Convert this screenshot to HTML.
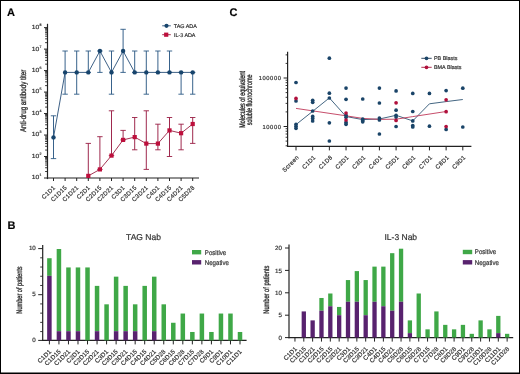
<!DOCTYPE html>
<html><head><meta charset="utf-8"><style>
html,body{margin:0;padding:0;background:#fff;width:520px;height:374px;overflow:hidden}
svg{display:block;font-family:"Liberation Sans", sans-serif;will-change:transform}
text{stroke:#2a2a2a;stroke-width:0.18px;text-rendering:geometricPrecision}
</style></head><body>
<svg width="520" height="374" viewBox="0 0 520 374">
<rect width="520" height="374" fill="#fff"/>
<text x="7.1" y="16.3" font-size="11" font-weight="bold" fill="#000">A</text>
<text x="229.6" y="16.3" font-size="11" font-weight="bold" fill="#000">C</text>
<text x="7.6" y="229" font-size="11" font-weight="bold" fill="#000">B</text>
<line x1="47.5" y1="24.4" x2="47.5" y2="178.5" stroke="#222" stroke-width="1.2" stroke-linecap="square"/>
<line x1="47.5" y1="178.0" x2="198.4" y2="178.0" stroke="#222" stroke-width="1.2" stroke-linecap="square"/>
<line x1="44.0" y1="178.0" x2="47.5" y2="178.0" stroke="#222" stroke-width="1"/>
<line x1="45.1" y1="171.53" x2="47.5" y2="171.53" stroke="#222" stroke-width="0.9"/>
<line x1="45.1" y1="167.75" x2="47.5" y2="167.75" stroke="#222" stroke-width="0.9"/>
<line x1="45.1" y1="165.07" x2="47.5" y2="165.07" stroke="#222" stroke-width="0.9"/>
<line x1="45.1" y1="162.99" x2="47.5" y2="162.99" stroke="#222" stroke-width="0.9"/>
<line x1="45.1" y1="161.29" x2="47.5" y2="161.29" stroke="#222" stroke-width="0.9"/>
<line x1="45.1" y1="159.85" x2="47.5" y2="159.85" stroke="#222" stroke-width="0.9"/>
<line x1="45.1" y1="158.60" x2="47.5" y2="158.60" stroke="#222" stroke-width="0.9"/>
<line x1="45.1" y1="157.50" x2="47.5" y2="157.50" stroke="#222" stroke-width="0.9"/>
<text transform="translate(39.2,179.40) scale(1.15,1)" font-size="5.9" fill="#333" text-anchor="end">10</text>
<text x="39.4" y="176.40" font-size="3.6" fill="#333">1</text>
<line x1="44.0" y1="156.52" x2="47.5" y2="156.52" stroke="#222" stroke-width="1"/>
<line x1="45.1" y1="150.05" x2="47.5" y2="150.05" stroke="#222" stroke-width="0.9"/>
<line x1="45.1" y1="146.27" x2="47.5" y2="146.27" stroke="#222" stroke-width="0.9"/>
<line x1="45.1" y1="143.59" x2="47.5" y2="143.59" stroke="#222" stroke-width="0.9"/>
<line x1="45.1" y1="141.51" x2="47.5" y2="141.51" stroke="#222" stroke-width="0.9"/>
<line x1="45.1" y1="139.81" x2="47.5" y2="139.81" stroke="#222" stroke-width="0.9"/>
<line x1="45.1" y1="138.37" x2="47.5" y2="138.37" stroke="#222" stroke-width="0.9"/>
<line x1="45.1" y1="137.12" x2="47.5" y2="137.12" stroke="#222" stroke-width="0.9"/>
<line x1="45.1" y1="136.02" x2="47.5" y2="136.02" stroke="#222" stroke-width="0.9"/>
<text transform="translate(39.2,157.92) scale(1.15,1)" font-size="5.9" fill="#333" text-anchor="end">10</text>
<text x="39.4" y="154.92" font-size="3.6" fill="#333">2</text>
<line x1="44.0" y1="135.04" x2="47.5" y2="135.04" stroke="#222" stroke-width="1"/>
<line x1="45.1" y1="128.57" x2="47.5" y2="128.57" stroke="#222" stroke-width="0.9"/>
<line x1="45.1" y1="124.79" x2="47.5" y2="124.79" stroke="#222" stroke-width="0.9"/>
<line x1="45.1" y1="122.11" x2="47.5" y2="122.11" stroke="#222" stroke-width="0.9"/>
<line x1="45.1" y1="120.03" x2="47.5" y2="120.03" stroke="#222" stroke-width="0.9"/>
<line x1="45.1" y1="118.33" x2="47.5" y2="118.33" stroke="#222" stroke-width="0.9"/>
<line x1="45.1" y1="116.89" x2="47.5" y2="116.89" stroke="#222" stroke-width="0.9"/>
<line x1="45.1" y1="115.64" x2="47.5" y2="115.64" stroke="#222" stroke-width="0.9"/>
<line x1="45.1" y1="114.54" x2="47.5" y2="114.54" stroke="#222" stroke-width="0.9"/>
<text transform="translate(39.2,136.44) scale(1.15,1)" font-size="5.9" fill="#333" text-anchor="end">10</text>
<text x="39.4" y="133.44" font-size="3.6" fill="#333">3</text>
<line x1="44.0" y1="113.56" x2="47.5" y2="113.56" stroke="#222" stroke-width="1"/>
<line x1="45.1" y1="107.09" x2="47.5" y2="107.09" stroke="#222" stroke-width="0.9"/>
<line x1="45.1" y1="103.31" x2="47.5" y2="103.31" stroke="#222" stroke-width="0.9"/>
<line x1="45.1" y1="100.63" x2="47.5" y2="100.63" stroke="#222" stroke-width="0.9"/>
<line x1="45.1" y1="98.55" x2="47.5" y2="98.55" stroke="#222" stroke-width="0.9"/>
<line x1="45.1" y1="96.85" x2="47.5" y2="96.85" stroke="#222" stroke-width="0.9"/>
<line x1="45.1" y1="95.41" x2="47.5" y2="95.41" stroke="#222" stroke-width="0.9"/>
<line x1="45.1" y1="94.16" x2="47.5" y2="94.16" stroke="#222" stroke-width="0.9"/>
<line x1="45.1" y1="93.06" x2="47.5" y2="93.06" stroke="#222" stroke-width="0.9"/>
<text transform="translate(39.2,114.96) scale(1.15,1)" font-size="5.9" fill="#333" text-anchor="end">10</text>
<text x="39.4" y="111.96" font-size="3.6" fill="#333">4</text>
<line x1="44.0" y1="92.08" x2="47.5" y2="92.08" stroke="#222" stroke-width="1"/>
<line x1="45.1" y1="85.61" x2="47.5" y2="85.61" stroke="#222" stroke-width="0.9"/>
<line x1="45.1" y1="81.83" x2="47.5" y2="81.83" stroke="#222" stroke-width="0.9"/>
<line x1="45.1" y1="79.15" x2="47.5" y2="79.15" stroke="#222" stroke-width="0.9"/>
<line x1="45.1" y1="77.07" x2="47.5" y2="77.07" stroke="#222" stroke-width="0.9"/>
<line x1="45.1" y1="75.37" x2="47.5" y2="75.37" stroke="#222" stroke-width="0.9"/>
<line x1="45.1" y1="73.93" x2="47.5" y2="73.93" stroke="#222" stroke-width="0.9"/>
<line x1="45.1" y1="72.68" x2="47.5" y2="72.68" stroke="#222" stroke-width="0.9"/>
<line x1="45.1" y1="71.58" x2="47.5" y2="71.58" stroke="#222" stroke-width="0.9"/>
<text transform="translate(39.2,93.48) scale(1.15,1)" font-size="5.9" fill="#333" text-anchor="end">10</text>
<text x="39.4" y="90.48" font-size="3.6" fill="#333">5</text>
<line x1="44.0" y1="70.6" x2="47.5" y2="70.6" stroke="#222" stroke-width="1"/>
<line x1="45.1" y1="64.13" x2="47.5" y2="64.13" stroke="#222" stroke-width="0.9"/>
<line x1="45.1" y1="60.35" x2="47.5" y2="60.35" stroke="#222" stroke-width="0.9"/>
<line x1="45.1" y1="57.67" x2="47.5" y2="57.67" stroke="#222" stroke-width="0.9"/>
<line x1="45.1" y1="55.59" x2="47.5" y2="55.59" stroke="#222" stroke-width="0.9"/>
<line x1="45.1" y1="53.89" x2="47.5" y2="53.89" stroke="#222" stroke-width="0.9"/>
<line x1="45.1" y1="52.45" x2="47.5" y2="52.45" stroke="#222" stroke-width="0.9"/>
<line x1="45.1" y1="51.20" x2="47.5" y2="51.20" stroke="#222" stroke-width="0.9"/>
<line x1="45.1" y1="50.10" x2="47.5" y2="50.10" stroke="#222" stroke-width="0.9"/>
<text transform="translate(39.2,72.00) scale(1.15,1)" font-size="5.9" fill="#333" text-anchor="end">10</text>
<text x="39.4" y="69.00" font-size="3.6" fill="#333">6</text>
<line x1="44.0" y1="49.120000000000005" x2="47.5" y2="49.120000000000005" stroke="#222" stroke-width="1"/>
<line x1="45.1" y1="42.65" x2="47.5" y2="42.65" stroke="#222" stroke-width="0.9"/>
<line x1="45.1" y1="38.87" x2="47.5" y2="38.87" stroke="#222" stroke-width="0.9"/>
<line x1="45.1" y1="36.19" x2="47.5" y2="36.19" stroke="#222" stroke-width="0.9"/>
<line x1="45.1" y1="34.11" x2="47.5" y2="34.11" stroke="#222" stroke-width="0.9"/>
<line x1="45.1" y1="32.41" x2="47.5" y2="32.41" stroke="#222" stroke-width="0.9"/>
<line x1="45.1" y1="30.97" x2="47.5" y2="30.97" stroke="#222" stroke-width="0.9"/>
<line x1="45.1" y1="29.72" x2="47.5" y2="29.72" stroke="#222" stroke-width="0.9"/>
<line x1="45.1" y1="28.62" x2="47.5" y2="28.62" stroke="#222" stroke-width="0.9"/>
<text transform="translate(39.2,50.52) scale(1.15,1)" font-size="5.9" fill="#333" text-anchor="end">10</text>
<text x="39.4" y="47.52" font-size="3.6" fill="#333">7</text>
<line x1="44.0" y1="27.639999999999986" x2="47.5" y2="27.639999999999986" stroke="#222" stroke-width="1"/>
<text transform="translate(39.2,29.04) scale(1.15,1)" font-size="5.9" fill="#333" text-anchor="end">10</text>
<text x="39.4" y="26.04" font-size="3.6" fill="#333">8</text>
<line x1="53.50" y1="178.0" x2="53.50" y2="181.0" stroke="#222" stroke-width="1"/>
<text transform="translate(55.80,187.80) rotate(-45)" font-size="6.0" letter-spacing="0.3" fill="#333" text-anchor="end">C1D1</text>
<line x1="65.10" y1="178.0" x2="65.10" y2="181.0" stroke="#222" stroke-width="1"/>
<text transform="translate(67.40,187.80) rotate(-45)" font-size="6.0" letter-spacing="0.3" fill="#333" text-anchor="end">C1D15</text>
<line x1="76.70" y1="178.0" x2="76.70" y2="181.0" stroke="#222" stroke-width="1"/>
<text transform="translate(79.00,187.80) rotate(-45)" font-size="6.0" letter-spacing="0.3" fill="#333" text-anchor="end">C1D21</text>
<line x1="88.30" y1="178.0" x2="88.30" y2="181.0" stroke="#222" stroke-width="1"/>
<text transform="translate(90.60,187.80) rotate(-45)" font-size="6.0" letter-spacing="0.3" fill="#333" text-anchor="end">C2D1</text>
<line x1="99.90" y1="178.0" x2="99.90" y2="181.0" stroke="#222" stroke-width="1"/>
<text transform="translate(102.20,187.80) rotate(-45)" font-size="6.0" letter-spacing="0.3" fill="#333" text-anchor="end">C2D15</text>
<line x1="111.50" y1="178.0" x2="111.50" y2="181.0" stroke="#222" stroke-width="1"/>
<text transform="translate(113.80,187.80) rotate(-45)" font-size="6.0" letter-spacing="0.3" fill="#333" text-anchor="end">C2D21</text>
<line x1="123.10" y1="178.0" x2="123.10" y2="181.0" stroke="#222" stroke-width="1"/>
<text transform="translate(125.40,187.80) rotate(-45)" font-size="6.0" letter-spacing="0.3" fill="#333" text-anchor="end">C3D1</text>
<line x1="134.70" y1="178.0" x2="134.70" y2="181.0" stroke="#222" stroke-width="1"/>
<text transform="translate(137.00,187.80) rotate(-45)" font-size="6.0" letter-spacing="0.3" fill="#333" text-anchor="end">C3D15</text>
<line x1="146.30" y1="178.0" x2="146.30" y2="181.0" stroke="#222" stroke-width="1"/>
<text transform="translate(148.60,187.80) rotate(-45)" font-size="6.0" letter-spacing="0.3" fill="#333" text-anchor="end">C3D21</text>
<line x1="157.90" y1="178.0" x2="157.90" y2="181.0" stroke="#222" stroke-width="1"/>
<text transform="translate(160.20,187.80) rotate(-45)" font-size="6.0" letter-spacing="0.3" fill="#333" text-anchor="end">C4D1</text>
<line x1="169.50" y1="178.0" x2="169.50" y2="181.0" stroke="#222" stroke-width="1"/>
<text transform="translate(171.80,187.80) rotate(-45)" font-size="6.0" letter-spacing="0.3" fill="#333" text-anchor="end">C4D15</text>
<line x1="181.10" y1="178.0" x2="181.10" y2="181.0" stroke="#222" stroke-width="1"/>
<text transform="translate(183.40,187.80) rotate(-45)" font-size="6.0" letter-spacing="0.3" fill="#333" text-anchor="end">C4D21</text>
<line x1="192.70" y1="178.0" x2="192.70" y2="181.0" stroke="#222" stroke-width="1"/>
<text transform="translate(195.00,187.80) rotate(-45)" font-size="6.0" letter-spacing="0.3" fill="#333" text-anchor="end">C5D28</text>
<text transform="translate(25.6,100.9) rotate(-90) scale(0.74,1)" font-size="8.4" fill="#333" text-anchor="middle" style="stroke-width:0.32px">Anti-drug antibody titer</text>
<line x1="53.50" y1="115.8" x2="53.50" y2="158.6" stroke="#2d5a85" stroke-width="0.95"/><line x1="50.80" y1="115.8" x2="56.20" y2="115.8" stroke="#2d5a85" stroke-width="0.9"/><line x1="50.80" y1="158.6" x2="56.20" y2="158.6" stroke="#2d5a85" stroke-width="0.9"/>
<line x1="65.10" y1="51.0" x2="65.10" y2="94.2" stroke="#2d5a85" stroke-width="0.95"/><line x1="62.40" y1="51.0" x2="67.80" y2="51.0" stroke="#2d5a85" stroke-width="0.9"/><line x1="62.40" y1="94.2" x2="67.80" y2="94.2" stroke="#2d5a85" stroke-width="0.9"/>
<line x1="76.70" y1="51.0" x2="76.70" y2="94.2" stroke="#2d5a85" stroke-width="0.95"/><line x1="74.00" y1="51.0" x2="79.40" y2="51.0" stroke="#2d5a85" stroke-width="0.9"/><line x1="74.00" y1="94.2" x2="79.40" y2="94.2" stroke="#2d5a85" stroke-width="0.9"/>
<line x1="88.30" y1="51.0" x2="88.30" y2="72.4" stroke="#2d5a85" stroke-width="0.95"/><line x1="85.60" y1="51.0" x2="91.00" y2="51.0" stroke="#2d5a85" stroke-width="0.9"/><line x1="85.60" y1="72.4" x2="91.00" y2="72.4" stroke="#2d5a85" stroke-width="0.9"/>
<line x1="99.90" y1="51.0" x2="99.90" y2="72.4" stroke="#2d5a85" stroke-width="0.95"/><line x1="97.20" y1="51.0" x2="102.60" y2="51.0" stroke="#2d5a85" stroke-width="0.9"/><line x1="97.20" y1="72.4" x2="102.60" y2="72.4" stroke="#2d5a85" stroke-width="0.9"/>
<line x1="111.50" y1="51.0" x2="111.50" y2="94.2" stroke="#2d5a85" stroke-width="0.95"/><line x1="108.80" y1="51.0" x2="114.20" y2="51.0" stroke="#2d5a85" stroke-width="0.9"/><line x1="108.80" y1="94.2" x2="114.20" y2="94.2" stroke="#2d5a85" stroke-width="0.9"/>
<line x1="123.10" y1="29.3" x2="123.10" y2="72.4" stroke="#2d5a85" stroke-width="0.95"/><line x1="120.40" y1="29.3" x2="125.80" y2="29.3" stroke="#2d5a85" stroke-width="0.9"/><line x1="120.40" y1="72.4" x2="125.80" y2="72.4" stroke="#2d5a85" stroke-width="0.9"/>
<line x1="134.70" y1="51.0" x2="134.70" y2="72.4" stroke="#2d5a85" stroke-width="0.95"/><line x1="132.00" y1="51.0" x2="137.40" y2="51.0" stroke="#2d5a85" stroke-width="0.9"/><line x1="132.00" y1="72.4" x2="137.40" y2="72.4" stroke="#2d5a85" stroke-width="0.9"/>
<line x1="146.30" y1="51.0" x2="146.30" y2="94.2" stroke="#2d5a85" stroke-width="0.95"/><line x1="143.60" y1="51.0" x2="149.00" y2="51.0" stroke="#2d5a85" stroke-width="0.9"/><line x1="143.60" y1="94.2" x2="149.00" y2="94.2" stroke="#2d5a85" stroke-width="0.9"/>
<line x1="157.90" y1="51.0" x2="157.90" y2="72.4" stroke="#2d5a85" stroke-width="0.95"/><line x1="155.20" y1="51.0" x2="160.60" y2="51.0" stroke="#2d5a85" stroke-width="0.9"/><line x1="155.20" y1="72.4" x2="160.60" y2="72.4" stroke="#2d5a85" stroke-width="0.9"/>
<line x1="169.50" y1="51.0" x2="169.50" y2="72.4" stroke="#2d5a85" stroke-width="0.95"/><line x1="166.80" y1="51.0" x2="172.20" y2="51.0" stroke="#2d5a85" stroke-width="0.9"/><line x1="166.80" y1="72.4" x2="172.20" y2="72.4" stroke="#2d5a85" stroke-width="0.9"/>
<line x1="181.10" y1="72.4" x2="181.10" y2="94.2" stroke="#2d5a85" stroke-width="0.95"/><line x1="178.40" y1="72.4" x2="183.80" y2="72.4" stroke="#2d5a85" stroke-width="0.9"/><line x1="178.40" y1="94.2" x2="183.80" y2="94.2" stroke="#2d5a85" stroke-width="0.9"/>
<line x1="192.70" y1="72.4" x2="192.70" y2="94.2" stroke="#2d5a85" stroke-width="0.95"/><line x1="190.00" y1="72.4" x2="195.40" y2="72.4" stroke="#2d5a85" stroke-width="0.9"/><line x1="190.00" y1="94.2" x2="195.40" y2="94.2" stroke="#2d5a85" stroke-width="0.9"/>
<line x1="88.30" y1="143.4" x2="88.30" y2="177.9" stroke="#9a1e44" stroke-width="0.95"/><line x1="85.60" y1="143.4" x2="91.00" y2="143.4" stroke="#9a1e44" stroke-width="0.9"/>
<line x1="99.90" y1="136.7" x2="99.90" y2="169.4" stroke="#9a1e44" stroke-width="0.95"/><line x1="97.20" y1="136.7" x2="102.60" y2="136.7" stroke="#9a1e44" stroke-width="0.9"/><line x1="97.20" y1="169.4" x2="102.60" y2="169.4" stroke="#9a1e44" stroke-width="0.9"/>
<line x1="111.50" y1="110.8" x2="111.50" y2="155.6" stroke="#9a1e44" stroke-width="0.95"/><line x1="108.80" y1="110.8" x2="114.20" y2="110.8" stroke="#9a1e44" stroke-width="0.9"/><line x1="108.80" y1="155.6" x2="114.20" y2="155.6" stroke="#9a1e44" stroke-width="0.9"/>
<line x1="123.10" y1="130.4" x2="123.10" y2="139.9" stroke="#9a1e44" stroke-width="0.95"/><line x1="120.40" y1="130.4" x2="125.80" y2="130.4" stroke="#9a1e44" stroke-width="0.9"/><line x1="120.40" y1="139.9" x2="125.80" y2="139.9" stroke="#9a1e44" stroke-width="0.9"/>
<line x1="134.70" y1="117.5" x2="134.70" y2="149.8" stroke="#9a1e44" stroke-width="0.95"/><line x1="132.00" y1="117.5" x2="137.40" y2="117.5" stroke="#9a1e44" stroke-width="0.9"/><line x1="132.00" y1="149.8" x2="137.40" y2="149.8" stroke="#9a1e44" stroke-width="0.9"/>
<line x1="146.30" y1="110.8" x2="146.30" y2="169.4" stroke="#9a1e44" stroke-width="0.95"/><line x1="143.60" y1="110.8" x2="149.00" y2="110.8" stroke="#9a1e44" stroke-width="0.9"/><line x1="143.60" y1="169.4" x2="149.00" y2="169.4" stroke="#9a1e44" stroke-width="0.9"/>
<line x1="157.90" y1="124.2" x2="157.90" y2="149.8" stroke="#9a1e44" stroke-width="0.95"/><line x1="155.20" y1="124.2" x2="160.60" y2="124.2" stroke="#9a1e44" stroke-width="0.9"/><line x1="155.20" y1="149.8" x2="160.60" y2="149.8" stroke="#9a1e44" stroke-width="0.9"/>
<line x1="169.50" y1="117.5" x2="169.50" y2="156.5" stroke="#9a1e44" stroke-width="0.95"/><line x1="166.80" y1="117.5" x2="172.20" y2="117.5" stroke="#9a1e44" stroke-width="0.9"/><line x1="166.80" y1="156.5" x2="172.20" y2="156.5" stroke="#9a1e44" stroke-width="0.9"/>
<line x1="181.10" y1="124.2" x2="181.10" y2="149.8" stroke="#9a1e44" stroke-width="0.95"/><line x1="178.40" y1="124.2" x2="183.80" y2="124.2" stroke="#9a1e44" stroke-width="0.9"/><line x1="178.40" y1="149.8" x2="183.80" y2="149.8" stroke="#9a1e44" stroke-width="0.9"/>
<line x1="192.70" y1="117.5" x2="192.70" y2="143.4" stroke="#9a1e44" stroke-width="0.95"/><line x1="190.00" y1="117.5" x2="195.40" y2="117.5" stroke="#9a1e44" stroke-width="0.9"/><line x1="190.00" y1="143.4" x2="195.40" y2="143.4" stroke="#9a1e44" stroke-width="0.9"/>
<polyline points="53.50,137.4 65.10,72.4 76.70,72.4 88.30,72.4 99.90,51.0 111.50,72.4 123.10,51.0 134.70,72.4 146.30,72.4 157.90,72.4 169.50,72.4 181.10,72.4 192.70,72.4" fill="none" stroke="#284f78" stroke-width="0.9"/>
<polyline points="88.30,175.9 99.90,169.4 111.50,155.6 123.10,139.9 134.70,137.1 146.30,143.6 157.90,143.6 169.50,130.4 181.10,133.2 192.70,124.0" fill="none" stroke="#9a1f42" stroke-width="0.9"/>
<circle cx="53.50" cy="137.4" r="2.2" fill="#17446c"/>
<circle cx="65.10" cy="72.4" r="2.2" fill="#17446c"/>
<circle cx="76.70" cy="72.4" r="2.2" fill="#17446c"/>
<circle cx="88.30" cy="72.4" r="2.2" fill="#17446c"/>
<circle cx="99.90" cy="51.0" r="2.2" fill="#17446c"/>
<circle cx="111.50" cy="72.4" r="2.2" fill="#17446c"/>
<circle cx="123.10" cy="51.0" r="2.2" fill="#17446c"/>
<circle cx="134.70" cy="72.4" r="2.2" fill="#17446c"/>
<circle cx="146.30" cy="72.4" r="2.2" fill="#17446c"/>
<circle cx="157.90" cy="72.4" r="2.2" fill="#17446c"/>
<circle cx="169.50" cy="72.4" r="2.2" fill="#17446c"/>
<circle cx="181.10" cy="72.4" r="2.2" fill="#17446c"/>
<circle cx="192.70" cy="72.4" r="2.2" fill="#17446c"/>
<rect x="86.20" y="173.8" width="4.2" height="4.2" fill="#bd0f3c"/>
<rect x="97.80" y="167.3" width="4.2" height="4.2" fill="#bd0f3c"/>
<rect x="109.40" y="153.5" width="4.2" height="4.2" fill="#bd0f3c"/>
<rect x="121.00" y="137.8" width="4.2" height="4.2" fill="#bd0f3c"/>
<rect x="132.60" y="135.0" width="4.2" height="4.2" fill="#bd0f3c"/>
<rect x="144.20" y="141.5" width="4.2" height="4.2" fill="#bd0f3c"/>
<rect x="155.80" y="141.5" width="4.2" height="4.2" fill="#bd0f3c"/>
<rect x="167.40" y="128.3" width="4.2" height="4.2" fill="#bd0f3c"/>
<rect x="179.00" y="131.1" width="4.2" height="4.2" fill="#bd0f3c"/>
<rect x="190.60" y="121.9" width="4.2" height="4.2" fill="#bd0f3c"/>
<line x1="162.2" y1="25.8" x2="170.8" y2="25.8" stroke="#284f78" stroke-width="0.9"/><circle cx="166.5" cy="25.8" r="2.1" fill="#17446c"/>
<text x="173.8" y="28.1" font-size="5.4" fill="#333">TAG ADA</text>
<line x1="162.2" y1="34.7" x2="170.8" y2="34.7" stroke="#9a1f42" stroke-width="0.9"/><rect x="164.1" y="32.6" width="4.2" height="4.2" fill="#bd0f3c"/>
<text x="173.9" y="36.7" font-size="5.4" fill="#333">IL-3 ADA</text>
<line x1="287.6" y1="52.3" x2="287.6" y2="146.4" stroke="#222" stroke-width="1.2" stroke-linecap="square"/>
<line x1="287.6" y1="146.4" x2="470.8" y2="146.4" stroke="#222" stroke-width="1.2" stroke-linecap="square"/>
<line x1="285.6" y1="145.80" x2="287.6" y2="145.80" stroke="#222" stroke-width="0.9"/>
<line x1="285.6" y1="141.10" x2="287.6" y2="141.10" stroke="#222" stroke-width="0.9"/>
<line x1="285.6" y1="137.26" x2="287.6" y2="137.26" stroke="#222" stroke-width="0.9"/>
<line x1="285.6" y1="134.01" x2="287.6" y2="134.01" stroke="#222" stroke-width="0.9"/>
<line x1="285.6" y1="131.20" x2="287.6" y2="131.20" stroke="#222" stroke-width="0.9"/>
<line x1="285.6" y1="128.72" x2="287.6" y2="128.72" stroke="#222" stroke-width="0.9"/>
<line x1="285.6" y1="111.90" x2="287.6" y2="111.90" stroke="#222" stroke-width="0.9"/>
<line x1="285.6" y1="103.36" x2="287.6" y2="103.36" stroke="#222" stroke-width="0.9"/>
<line x1="285.6" y1="97.30" x2="287.6" y2="97.30" stroke="#222" stroke-width="0.9"/>
<line x1="285.6" y1="92.60" x2="287.6" y2="92.60" stroke="#222" stroke-width="0.9"/>
<line x1="285.6" y1="88.76" x2="287.6" y2="88.76" stroke="#222" stroke-width="0.9"/>
<line x1="285.6" y1="85.51" x2="287.6" y2="85.51" stroke="#222" stroke-width="0.9"/>
<line x1="285.6" y1="82.70" x2="287.6" y2="82.70" stroke="#222" stroke-width="0.9"/>
<line x1="285.6" y1="80.22" x2="287.6" y2="80.22" stroke="#222" stroke-width="0.9"/>
<line x1="285.6" y1="63.40" x2="287.6" y2="63.40" stroke="#222" stroke-width="0.9"/>
<line x1="285.6" y1="54.86" x2="287.6" y2="54.86" stroke="#222" stroke-width="0.9"/>
<line x1="283.6" y1="126.50" x2="287.6" y2="126.50" stroke="#222" stroke-width="1"/>
<text x="281.6" y="128.60" font-size="5.8" letter-spacing="0.6" fill="#333" text-anchor="end">10000</text>
<line x1="283.6" y1="78.00" x2="287.6" y2="78.00" stroke="#222" stroke-width="1"/>
<text x="281.6" y="80.10" font-size="5.8" letter-spacing="0.6" fill="#333" text-anchor="end">100000</text>
<line x1="296.00" y1="146.4" x2="296.00" y2="150.4" stroke="#222" stroke-width="1"/>
<text transform="translate(299.40,157.70) rotate(-45)" font-size="6.0" letter-spacing="0.3" fill="#333" text-anchor="end">Screen</text>
<line x1="312.68" y1="146.4" x2="312.68" y2="150.4" stroke="#222" stroke-width="1"/>
<text transform="translate(316.08,157.70) rotate(-45)" font-size="6.0" letter-spacing="0.3" fill="#333" text-anchor="end">C1D1</text>
<line x1="329.36" y1="146.4" x2="329.36" y2="150.4" stroke="#222" stroke-width="1"/>
<text transform="translate(332.76,157.70) rotate(-45)" font-size="6.0" letter-spacing="0.3" fill="#333" text-anchor="end">C1D8</text>
<line x1="346.04" y1="146.4" x2="346.04" y2="150.4" stroke="#222" stroke-width="1"/>
<text transform="translate(349.44,157.70) rotate(-45)" font-size="6.0" letter-spacing="0.3" fill="#333" text-anchor="end">C2D1</text>
<line x1="362.72" y1="146.4" x2="362.72" y2="150.4" stroke="#222" stroke-width="1"/>
<text transform="translate(366.12,157.70) rotate(-45)" font-size="6.0" letter-spacing="0.3" fill="#333" text-anchor="end">C3D1</text>
<line x1="379.40" y1="146.4" x2="379.40" y2="150.4" stroke="#222" stroke-width="1"/>
<text transform="translate(382.80,157.70) rotate(-45)" font-size="6.0" letter-spacing="0.3" fill="#333" text-anchor="end">C4D1</text>
<line x1="396.08" y1="146.4" x2="396.08" y2="150.4" stroke="#222" stroke-width="1"/>
<text transform="translate(399.48,157.70) rotate(-45)" font-size="6.0" letter-spacing="0.3" fill="#333" text-anchor="end">C5D1</text>
<line x1="412.76" y1="146.4" x2="412.76" y2="150.4" stroke="#222" stroke-width="1"/>
<text transform="translate(416.16,157.70) rotate(-45)" font-size="6.0" letter-spacing="0.3" fill="#333" text-anchor="end">C6D1</text>
<line x1="429.44" y1="146.4" x2="429.44" y2="150.4" stroke="#222" stroke-width="1"/>
<text transform="translate(432.84,157.70) rotate(-45)" font-size="6.0" letter-spacing="0.3" fill="#333" text-anchor="end">C7D1</text>
<line x1="446.12" y1="146.4" x2="446.12" y2="150.4" stroke="#222" stroke-width="1"/>
<text transform="translate(449.52,157.70) rotate(-45)" font-size="6.0" letter-spacing="0.3" fill="#333" text-anchor="end">C8D1</text>
<line x1="462.80" y1="146.4" x2="462.80" y2="150.4" stroke="#222" stroke-width="1"/>
<text transform="translate(466.20,157.70) rotate(-45)" font-size="6.0" letter-spacing="0.3" fill="#333" text-anchor="end">C9D1</text>
<text transform="translate(244.6,99.4) rotate(-90) scale(0.665,1)" font-size="8.2" fill="#333" text-anchor="middle" style="stroke-width:0.32px">Molecules of equivalent</text>
<text transform="translate(251.9,99.9) rotate(-90) scale(0.67,1)" font-size="8.2" fill="#333" text-anchor="middle" style="stroke-width:0.32px">soluble fluorochrome</text>
<polyline points="296.00,124.6 312.68,111.3 329.36,97.9 346.04,116.5 362.72,119.6 379.40,119 396.08,115.3 412.76,120.9 429.44,103.8 446.12,101.6 462.80,99.5" fill="none" stroke="#2f5574" stroke-width="0.9"/>
<polyline points="296.00,108.4 346.04,115.8 362.72,118.4 379.40,119.4 396.08,119.2 412.76,116.6 446.12,111.5" fill="none" stroke="#c03a5a" stroke-width="0.9"/>
<circle cx="296.00" cy="82.5" r="1.85" fill="#1a4468"/>
<circle cx="296.00" cy="101" r="1.85" fill="#1a4468"/>
<circle cx="296.00" cy="124.3" r="1.85" fill="#1a4468"/>
<circle cx="296.00" cy="126.3" r="1.85" fill="#1a4468"/>
<circle cx="296.00" cy="128.3" r="1.85" fill="#1a4468"/>
<circle cx="312.68" cy="100.3" r="1.85" fill="#1a4468"/>
<circle cx="312.68" cy="102.3" r="1.85" fill="#1a4468"/>
<circle cx="312.68" cy="111" r="1.85" fill="#1a4468"/>
<circle cx="312.68" cy="116.4" r="1.85" fill="#1a4468"/>
<circle cx="312.68" cy="118.4" r="1.85" fill="#1a4468"/>
<circle cx="312.68" cy="121" r="1.85" fill="#1a4468"/>
<circle cx="329.36" cy="58.2" r="1.85" fill="#1a4468"/>
<circle cx="329.36" cy="93.2" r="1.85" fill="#1a4468"/>
<circle cx="329.36" cy="98" r="1.85" fill="#1a4468"/>
<circle cx="329.36" cy="122.8" r="1.85" fill="#1a4468"/>
<circle cx="329.36" cy="141" r="1.85" fill="#1a4468"/>
<circle cx="346.04" cy="88.1" r="1.85" fill="#1a4468"/>
<circle cx="346.04" cy="99.3" r="1.85" fill="#1a4468"/>
<circle cx="346.04" cy="115.3" r="1.85" fill="#1a4468"/>
<circle cx="346.04" cy="117.3" r="1.85" fill="#1a4468"/>
<circle cx="346.04" cy="122.4" r="1.85" fill="#1a4468"/>
<circle cx="346.04" cy="124.3" r="1.85" fill="#1a4468"/>
<circle cx="362.72" cy="99" r="1.85" fill="#1a4468"/>
<circle cx="362.72" cy="119" r="1.85" fill="#1a4468"/>
<circle cx="362.72" cy="120.5" r="1.85" fill="#1a4468"/>
<circle cx="362.72" cy="121.8" r="1.85" fill="#1a4468"/>
<circle cx="379.40" cy="88.1" r="1.85" fill="#1a4468"/>
<circle cx="379.40" cy="103" r="1.85" fill="#1a4468"/>
<circle cx="379.40" cy="118.1" r="1.85" fill="#1a4468"/>
<circle cx="379.40" cy="120" r="1.85" fill="#1a4468"/>
<circle cx="379.40" cy="134" r="1.85" fill="#1a4468"/>
<circle cx="396.08" cy="90.9" r="1.85" fill="#1a4468"/>
<circle cx="396.08" cy="110.2" r="1.85" fill="#1a4468"/>
<circle cx="396.08" cy="115.3" r="1.85" fill="#1a4468"/>
<circle cx="396.08" cy="117.1" r="1.85" fill="#1a4468"/>
<circle cx="396.08" cy="126.5" r="1.85" fill="#1a4468"/>
<circle cx="412.76" cy="93.4" r="1.85" fill="#1a4468"/>
<circle cx="412.76" cy="111.5" r="1.85" fill="#1a4468"/>
<circle cx="412.76" cy="120.9" r="1.85" fill="#1a4468"/>
<circle cx="412.76" cy="125.6" r="1.85" fill="#1a4468"/>
<circle cx="412.76" cy="127" r="1.85" fill="#1a4468"/>
<circle cx="429.44" cy="93.4" r="1.85" fill="#1a4468"/>
<circle cx="429.44" cy="126.2" r="1.85" fill="#1a4468"/>
<circle cx="446.12" cy="90.6" r="1.85" fill="#1a4468"/>
<circle cx="446.12" cy="129.4" r="1.85" fill="#1a4468"/>
<circle cx="462.80" cy="88.2" r="1.85" fill="#1a4468"/>
<circle cx="462.80" cy="127" r="1.85" fill="#1a4468"/>
<circle cx="296.00" cy="98.4" r="1.85" fill="#b0103c"/>
<circle cx="346.04" cy="113" r="1.85" fill="#b0103c"/>
<circle cx="346.04" cy="120" r="1.85" fill="#b0103c"/>
<circle cx="396.08" cy="102.8" r="1.85" fill="#b0103c"/>
<circle cx="396.08" cy="120.4" r="1.85" fill="#b0103c"/>
<circle cx="446.12" cy="99.8" r="1.85" fill="#b0103c"/>
<circle cx="446.12" cy="111.7" r="1.85" fill="#b0103c"/>
<circle cx="446.12" cy="126.5" r="1.85" fill="#b0103c"/>
<line x1="421.3" y1="58.3" x2="431.7" y2="58.3" stroke="#1e3550" stroke-width="0.9"/><circle cx="426.5" cy="58.3" r="1.85" fill="#1a4468"/>
<text x="434" y="60.2" font-size="5.4" fill="#333">PB Blasts</text>
<line x1="421.3" y1="67.3" x2="431.7" y2="67.3" stroke="#a8183e" stroke-width="0.9"/><circle cx="426.5" cy="67.3" r="1.85" fill="#b0103c"/>
<text x="434" y="69.2" font-size="5.4" fill="#333">BMA Blasts</text>
<line x1="42.7" y1="245.6" x2="42.7" y2="340.4" stroke="#222" stroke-width="1.2" stroke-linecap="square"/>
<line x1="42.7" y1="340.4" x2="246" y2="340.4" stroke="#222" stroke-width="1.2" stroke-linecap="square"/>
<line x1="38.2" y1="340.40" x2="42.7" y2="340.40" stroke="#222" stroke-width="1"/>
<text x="35.8" y="342.10" font-size="6.2" fill="#333" text-anchor="end">0</text>
<line x1="40.2" y1="331.58" x2="42.7" y2="331.58" stroke="#222" stroke-width="0.9"/>
<line x1="40.2" y1="322.36" x2="42.7" y2="322.36" stroke="#222" stroke-width="0.9"/>
<line x1="40.2" y1="313.14" x2="42.7" y2="313.14" stroke="#222" stroke-width="0.9"/>
<line x1="40.2" y1="303.92" x2="42.7" y2="303.92" stroke="#222" stroke-width="0.9"/>
<line x1="38.2" y1="294.70" x2="42.7" y2="294.70" stroke="#222" stroke-width="1"/>
<text x="35.8" y="296.40" font-size="6.2" fill="#333" text-anchor="end">5</text>
<line x1="40.2" y1="285.48" x2="42.7" y2="285.48" stroke="#222" stroke-width="0.9"/>
<line x1="40.2" y1="276.26" x2="42.7" y2="276.26" stroke="#222" stroke-width="0.9"/>
<line x1="40.2" y1="267.04" x2="42.7" y2="267.04" stroke="#222" stroke-width="0.9"/>
<line x1="40.2" y1="257.82" x2="42.7" y2="257.82" stroke="#222" stroke-width="0.9"/>
<line x1="38.2" y1="248.60" x2="42.7" y2="248.60" stroke="#222" stroke-width="1"/>
<text x="35.8" y="250.30" font-size="6.2" fill="#333" text-anchor="end">10</text>
<rect x="47.15" y="258.22" width="4.5" height="17.64" fill="#3fa847"/>
<rect x="47.15" y="275.86" width="4.5" height="64.54" fill="#58226e"/>
<line x1="49.40" y1="340.4" x2="49.40" y2="344.4" stroke="#222" stroke-width="1"/>
<text transform="translate(51.70,351.90) rotate(-45)" font-size="6.2" letter-spacing="0.15" fill="#333" text-anchor="end">C1D1</text>
<rect x="56.68" y="249.00" width="4.5" height="82.18" fill="#3fa847"/>
<rect x="56.68" y="331.18" width="4.5" height="9.22" fill="#58226e"/>
<line x1="58.93" y1="340.4" x2="58.93" y2="344.4" stroke="#222" stroke-width="1"/>
<text transform="translate(61.23,351.90) rotate(-45)" font-size="6.2" letter-spacing="0.15" fill="#333" text-anchor="end">C1D15</text>
<rect x="66.21" y="267.44" width="4.5" height="63.74" fill="#3fa847"/>
<rect x="66.21" y="331.18" width="4.5" height="9.22" fill="#58226e"/>
<line x1="68.46" y1="340.4" x2="68.46" y2="344.4" stroke="#222" stroke-width="1"/>
<text transform="translate(70.76,351.90) rotate(-45)" font-size="6.2" letter-spacing="0.15" fill="#333" text-anchor="end">C1D21</text>
<rect x="75.74" y="267.44" width="4.5" height="63.74" fill="#3fa847"/>
<rect x="75.74" y="331.18" width="4.5" height="9.22" fill="#58226e"/>
<line x1="77.99" y1="340.4" x2="77.99" y2="344.4" stroke="#222" stroke-width="1"/>
<text transform="translate(80.29,351.90) rotate(-45)" font-size="6.2" letter-spacing="0.15" fill="#333" text-anchor="end">C2D1</text>
<rect x="85.27" y="267.44" width="4.5" height="72.96" fill="#3fa847"/>
<line x1="87.52" y1="340.4" x2="87.52" y2="344.4" stroke="#222" stroke-width="1"/>
<text transform="translate(89.82,351.90) rotate(-45)" font-size="6.2" letter-spacing="0.15" fill="#333" text-anchor="end">C2D15</text>
<rect x="94.80" y="285.88" width="4.5" height="45.30" fill="#3fa847"/>
<rect x="94.80" y="331.18" width="4.5" height="9.22" fill="#58226e"/>
<line x1="97.05" y1="340.4" x2="97.05" y2="344.4" stroke="#222" stroke-width="1"/>
<text transform="translate(99.35,351.90) rotate(-45)" font-size="6.2" letter-spacing="0.15" fill="#333" text-anchor="end">C2D21</text>
<rect x="104.33" y="304.32" width="4.5" height="36.08" fill="#3fa847"/>
<line x1="106.58" y1="340.4" x2="106.58" y2="344.4" stroke="#222" stroke-width="1"/>
<text transform="translate(108.88,351.90) rotate(-45)" font-size="6.2" letter-spacing="0.15" fill="#333" text-anchor="end">C3D1</text>
<rect x="113.86" y="276.66" width="4.5" height="54.52" fill="#3fa847"/>
<rect x="113.86" y="331.18" width="4.5" height="9.22" fill="#58226e"/>
<line x1="116.11" y1="340.4" x2="116.11" y2="344.4" stroke="#222" stroke-width="1"/>
<text transform="translate(118.41,351.90) rotate(-45)" font-size="6.2" letter-spacing="0.15" fill="#333" text-anchor="end">C3D15</text>
<rect x="123.39" y="285.88" width="4.5" height="45.30" fill="#3fa847"/>
<rect x="123.39" y="331.18" width="4.5" height="9.22" fill="#58226e"/>
<line x1="125.64" y1="340.4" x2="125.64" y2="344.4" stroke="#222" stroke-width="1"/>
<text transform="translate(127.94,351.90) rotate(-45)" font-size="6.2" letter-spacing="0.15" fill="#333" text-anchor="end">C3D21</text>
<rect x="132.92" y="304.32" width="4.5" height="26.86" fill="#3fa847"/>
<rect x="132.92" y="331.18" width="4.5" height="9.22" fill="#58226e"/>
<line x1="135.17" y1="340.4" x2="135.17" y2="344.4" stroke="#222" stroke-width="1"/>
<text transform="translate(137.47,351.90) rotate(-45)" font-size="6.2" letter-spacing="0.15" fill="#333" text-anchor="end">C4D15</text>
<rect x="142.45" y="285.88" width="4.5" height="54.52" fill="#3fa847"/>
<line x1="144.70" y1="340.4" x2="144.70" y2="344.4" stroke="#222" stroke-width="1"/>
<text transform="translate(147.00,351.90) rotate(-45)" font-size="6.2" letter-spacing="0.15" fill="#333" text-anchor="end">C4D15</text>
<rect x="151.98" y="276.66" width="4.5" height="54.52" fill="#3fa847"/>
<rect x="151.98" y="331.18" width="4.5" height="9.22" fill="#58226e"/>
<line x1="154.23" y1="340.4" x2="154.23" y2="344.4" stroke="#222" stroke-width="1"/>
<text transform="translate(156.53,351.90) rotate(-45)" font-size="6.2" letter-spacing="0.15" fill="#333" text-anchor="end">C4D21</text>
<rect x="161.51" y="304.32" width="4.5" height="36.08" fill="#3fa847"/>
<line x1="163.76" y1="340.4" x2="163.76" y2="344.4" stroke="#222" stroke-width="1"/>
<text transform="translate(166.06,351.90) rotate(-45)" font-size="6.2" letter-spacing="0.15" fill="#333" text-anchor="end">C5D28</text>
<rect x="171.04" y="322.76" width="4.5" height="17.64" fill="#3fa847"/>
<line x1="173.29" y1="340.4" x2="173.29" y2="344.4" stroke="#222" stroke-width="1"/>
<text transform="translate(175.59,351.90) rotate(-45)" font-size="6.2" letter-spacing="0.15" fill="#333" text-anchor="end">C6D15</text>
<rect x="180.57" y="313.54" width="4.5" height="26.86" fill="#3fa847"/>
<line x1="182.82" y1="340.4" x2="182.82" y2="344.4" stroke="#222" stroke-width="1"/>
<text transform="translate(185.12,351.90) rotate(-45)" font-size="6.2" letter-spacing="0.15" fill="#333" text-anchor="end">C6D28</text>
<rect x="190.10" y="331.98" width="4.5" height="8.42" fill="#3fa847"/>
<line x1="192.35" y1="340.4" x2="192.35" y2="344.4" stroke="#222" stroke-width="1"/>
<text transform="translate(194.65,351.90) rotate(-45)" font-size="6.2" letter-spacing="0.15" fill="#333" text-anchor="end">C7D15</text>
<rect x="199.63" y="313.54" width="4.5" height="26.86" fill="#3fa847"/>
<line x1="201.88" y1="340.4" x2="201.88" y2="344.4" stroke="#222" stroke-width="1"/>
<text transform="translate(204.18,351.90) rotate(-45)" font-size="6.2" letter-spacing="0.15" fill="#333" text-anchor="end">C7D28</text>
<rect x="209.16" y="331.98" width="4.5" height="8.42" fill="#3fa847"/>
<line x1="211.41" y1="340.4" x2="211.41" y2="344.4" stroke="#222" stroke-width="1"/>
<text transform="translate(213.71,351.90) rotate(-45)" font-size="6.2" letter-spacing="0.15" fill="#333" text-anchor="end">C8D1</text>
<rect x="218.69" y="313.54" width="4.5" height="26.86" fill="#3fa847"/>
<line x1="220.94" y1="340.4" x2="220.94" y2="344.4" stroke="#222" stroke-width="1"/>
<text transform="translate(223.24,351.90) rotate(-45)" font-size="6.2" letter-spacing="0.15" fill="#333" text-anchor="end">C9D1</text>
<rect x="228.22" y="313.54" width="4.5" height="26.86" fill="#3fa847"/>
<line x1="230.47" y1="340.4" x2="230.47" y2="344.4" stroke="#222" stroke-width="1"/>
<text transform="translate(232.77,351.90) rotate(-45)" font-size="6.2" letter-spacing="0.15" fill="#333" text-anchor="end">C10D1</text>
<rect x="237.75" y="331.98" width="4.5" height="8.42" fill="#3fa847"/>
<line x1="240.00" y1="340.4" x2="240.00" y2="344.4" stroke="#222" stroke-width="1"/>
<text transform="translate(242.30,351.90) rotate(-45)" font-size="6.2" letter-spacing="0.15" fill="#333" text-anchor="end">C11D1</text>
<text x="143.5" y="240" font-size="8.5" fill="#333" text-anchor="middle">TAG Nab</text>
<rect x="192" y="250" width="9.2" height="4.4" fill="#3fa847"/><text transform="translate(204.8,254.5) scale(0.9,1)" font-size="6.8" fill="#333">Positive</text>
<rect x="192" y="260.1" width="9.2" height="4.4" fill="#58226e"/><text transform="translate(204.8,264.5) scale(0.9,1)" font-size="6.8" fill="#333">Negative</text>
<text transform="translate(22.0,290) rotate(-90) scale(0.70,1)" font-size="8" fill="#333" text-anchor="middle" style="stroke-width:0.32px">Number of patients</text>
<line x1="289" y1="245.2" x2="289" y2="337.6" stroke="#222" stroke-width="1.2" stroke-linecap="square"/>
<line x1="289" y1="337.6" x2="512.6" y2="337.6" stroke="#222" stroke-width="1.2" stroke-linecap="square"/>
<line x1="285" y1="337.60" x2="289" y2="337.60" stroke="#222" stroke-width="1"/>
<text x="282" y="339.80" font-size="6.2" fill="#333" text-anchor="end">0</text>
<line x1="285" y1="315.20" x2="289" y2="315.20" stroke="#222" stroke-width="1"/>
<text x="282" y="317.40" font-size="6.2" fill="#333" text-anchor="end">5</text>
<line x1="285" y1="292.80" x2="289" y2="292.80" stroke="#222" stroke-width="1"/>
<text x="282" y="295.00" font-size="6.2" fill="#333" text-anchor="end">10</text>
<line x1="285" y1="270.40" x2="289" y2="270.40" stroke="#222" stroke-width="1"/>
<text x="282" y="272.60" font-size="6.2" fill="#333" text-anchor="end">15</text>
<line x1="285" y1="248.00" x2="289" y2="248.00" stroke="#222" stroke-width="1"/>
<text x="282" y="250.20" font-size="6.2" fill="#333" text-anchor="end">20</text>
<line x1="294.96" y1="337.6" x2="294.96" y2="341.6" stroke="#222" stroke-width="1"/>
<text transform="translate(297.66,349.10) rotate(-45)" font-size="6.2" letter-spacing="0.15" fill="#333" text-anchor="end">C1D1</text>
<rect x="301.65" y="311.42" width="4.3" height="26.18" fill="#58226e"/>
<line x1="303.80" y1="337.6" x2="303.80" y2="341.6" stroke="#222" stroke-width="1"/>
<text transform="translate(306.50,349.10) rotate(-45)" font-size="6.2" letter-spacing="0.15" fill="#333" text-anchor="end">C1D15</text>
<rect x="310.49" y="320.38" width="4.3" height="17.22" fill="#58226e"/>
<line x1="312.64" y1="337.6" x2="312.64" y2="341.6" stroke="#222" stroke-width="1"/>
<text transform="translate(315.34,349.10) rotate(-45)" font-size="6.2" letter-spacing="0.15" fill="#333" text-anchor="end">C1D21</text>
<rect x="319.33" y="297.98" width="4.3" height="12.74" fill="#3fa847"/>
<rect x="319.33" y="310.72" width="4.3" height="26.88" fill="#58226e"/>
<line x1="321.48" y1="337.6" x2="321.48" y2="341.6" stroke="#222" stroke-width="1"/>
<text transform="translate(324.18,349.10) rotate(-45)" font-size="6.2" letter-spacing="0.15" fill="#333" text-anchor="end">C2D15</text>
<rect x="328.17" y="293.50" width="4.3" height="12.74" fill="#3fa847"/>
<rect x="328.17" y="306.24" width="4.3" height="31.36" fill="#58226e"/>
<line x1="330.32" y1="337.6" x2="330.32" y2="341.6" stroke="#222" stroke-width="1"/>
<text transform="translate(333.02,349.10) rotate(-45)" font-size="6.2" letter-spacing="0.15" fill="#333" text-anchor="end">C2D15</text>
<rect x="337.01" y="306.94" width="4.3" height="8.26" fill="#3fa847"/>
<rect x="337.01" y="315.20" width="4.3" height="22.40" fill="#58226e"/>
<line x1="339.16" y1="337.6" x2="339.16" y2="341.6" stroke="#222" stroke-width="1"/>
<text transform="translate(341.86,349.10) rotate(-45)" font-size="6.2" letter-spacing="0.15" fill="#333" text-anchor="end">C2D21</text>
<rect x="345.86" y="280.06" width="4.3" height="21.70" fill="#3fa847"/>
<rect x="345.86" y="301.76" width="4.3" height="35.84" fill="#58226e"/>
<line x1="348.01" y1="337.6" x2="348.01" y2="341.6" stroke="#222" stroke-width="1"/>
<text transform="translate(350.71,349.10) rotate(-45)" font-size="6.2" letter-spacing="0.15" fill="#333" text-anchor="end">C3D1</text>
<rect x="354.70" y="271.10" width="4.3" height="30.66" fill="#3fa847"/>
<rect x="354.70" y="301.76" width="4.3" height="35.84" fill="#58226e"/>
<line x1="356.85" y1="337.6" x2="356.85" y2="341.6" stroke="#222" stroke-width="1"/>
<text transform="translate(359.55,349.10) rotate(-45)" font-size="6.2" letter-spacing="0.15" fill="#333" text-anchor="end">C3D15</text>
<rect x="363.54" y="280.06" width="4.3" height="35.14" fill="#3fa847"/>
<rect x="363.54" y="315.20" width="4.3" height="22.40" fill="#58226e"/>
<line x1="365.69" y1="337.6" x2="365.69" y2="341.6" stroke="#222" stroke-width="1"/>
<text transform="translate(368.39,349.10) rotate(-45)" font-size="6.2" letter-spacing="0.15" fill="#333" text-anchor="end">C3D21</text>
<rect x="372.38" y="266.62" width="4.3" height="35.14" fill="#3fa847"/>
<rect x="372.38" y="301.76" width="4.3" height="35.84" fill="#58226e"/>
<line x1="374.53" y1="337.6" x2="374.53" y2="341.6" stroke="#222" stroke-width="1"/>
<text transform="translate(377.23,349.10) rotate(-45)" font-size="6.2" letter-spacing="0.15" fill="#333" text-anchor="end">C4D1</text>
<rect x="381.22" y="266.62" width="4.3" height="39.62" fill="#3fa847"/>
<rect x="381.22" y="306.24" width="4.3" height="31.36" fill="#58226e"/>
<line x1="383.37" y1="337.6" x2="383.37" y2="341.6" stroke="#222" stroke-width="1"/>
<text transform="translate(386.07,349.10) rotate(-45)" font-size="6.2" letter-spacing="0.15" fill="#333" text-anchor="end">C4D15</text>
<rect x="390.06" y="253.18" width="4.3" height="57.54" fill="#3fa847"/>
<rect x="390.06" y="310.72" width="4.3" height="26.88" fill="#58226e"/>
<line x1="392.21" y1="337.6" x2="392.21" y2="341.6" stroke="#222" stroke-width="1"/>
<text transform="translate(394.91,349.10) rotate(-45)" font-size="6.2" letter-spacing="0.15" fill="#333" text-anchor="end">C4D21</text>
<rect x="398.90" y="248.70" width="4.3" height="53.06" fill="#3fa847"/>
<rect x="398.90" y="301.76" width="4.3" height="35.84" fill="#58226e"/>
<line x1="401.05" y1="337.6" x2="401.05" y2="341.6" stroke="#222" stroke-width="1"/>
<text transform="translate(403.75,349.10) rotate(-45)" font-size="6.2" letter-spacing="0.15" fill="#333" text-anchor="end">C5D28</text>
<rect x="407.74" y="320.38" width="4.3" height="12.74" fill="#3fa847"/>
<rect x="407.74" y="333.12" width="4.3" height="4.48" fill="#58226e"/>
<line x1="409.89" y1="337.6" x2="409.89" y2="341.6" stroke="#222" stroke-width="1"/>
<text transform="translate(412.59,349.10) rotate(-45)" font-size="6.2" letter-spacing="0.15" fill="#333" text-anchor="end">C6D15</text>
<rect x="416.58" y="293.50" width="4.3" height="44.10" fill="#3fa847"/>
<line x1="418.73" y1="337.6" x2="418.73" y2="341.6" stroke="#222" stroke-width="1"/>
<text transform="translate(421.43,349.10) rotate(-45)" font-size="6.2" letter-spacing="0.15" fill="#333" text-anchor="end">C6D28</text>
<rect x="425.42" y="329.34" width="4.3" height="8.26" fill="#3fa847"/>
<line x1="427.57" y1="337.6" x2="427.57" y2="341.6" stroke="#222" stroke-width="1"/>
<text transform="translate(430.27,349.10) rotate(-45)" font-size="6.2" letter-spacing="0.15" fill="#333" text-anchor="end">C7D15</text>
<rect x="434.27" y="311.42" width="4.3" height="26.18" fill="#3fa847"/>
<line x1="436.42" y1="337.6" x2="436.42" y2="341.6" stroke="#222" stroke-width="1"/>
<text transform="translate(439.12,349.10) rotate(-45)" font-size="6.2" letter-spacing="0.15" fill="#333" text-anchor="end">C7D28</text>
<rect x="443.11" y="324.86" width="4.3" height="12.74" fill="#3fa847"/>
<line x1="445.26" y1="337.6" x2="445.26" y2="341.6" stroke="#222" stroke-width="1"/>
<text transform="translate(447.96,349.10) rotate(-45)" font-size="6.2" letter-spacing="0.15" fill="#333" text-anchor="end">C8D1</text>
<rect x="451.95" y="329.34" width="4.3" height="8.26" fill="#3fa847"/>
<line x1="454.10" y1="337.6" x2="454.10" y2="341.6" stroke="#222" stroke-width="1"/>
<text transform="translate(456.80,349.10) rotate(-45)" font-size="6.2" letter-spacing="0.15" fill="#333" text-anchor="end">C8D28</text>
<rect x="460.79" y="324.86" width="4.3" height="12.74" fill="#3fa847"/>
<line x1="462.94" y1="337.6" x2="462.94" y2="341.6" stroke="#222" stroke-width="1"/>
<text transform="translate(465.64,349.10) rotate(-45)" font-size="6.2" letter-spacing="0.15" fill="#333" text-anchor="end">C9D1</text>
<rect x="469.63" y="333.82" width="4.3" height="3.78" fill="#3fa847"/>
<line x1="471.78" y1="337.6" x2="471.78" y2="341.6" stroke="#222" stroke-width="1"/>
<text transform="translate(474.48,349.10) rotate(-45)" font-size="6.2" letter-spacing="0.15" fill="#333" text-anchor="end">C9D28</text>
<rect x="478.47" y="320.38" width="4.3" height="17.22" fill="#3fa847"/>
<line x1="480.62" y1="337.6" x2="480.62" y2="341.6" stroke="#222" stroke-width="1"/>
<text transform="translate(483.32,349.10) rotate(-45)" font-size="6.2" letter-spacing="0.15" fill="#333" text-anchor="end">C10D1</text>
<rect x="487.31" y="329.34" width="4.3" height="8.26" fill="#3fa847"/>
<line x1="489.46" y1="337.6" x2="489.46" y2="341.6" stroke="#222" stroke-width="1"/>
<text transform="translate(492.16,349.10) rotate(-45)" font-size="6.2" letter-spacing="0.15" fill="#333" text-anchor="end">C10D28</text>
<rect x="496.15" y="315.90" width="4.3" height="17.22" fill="#3fa847"/>
<rect x="496.15" y="333.12" width="4.3" height="4.48" fill="#58226e"/>
<line x1="498.30" y1="337.6" x2="498.30" y2="341.6" stroke="#222" stroke-width="1"/>
<text transform="translate(501.00,349.10) rotate(-45)" font-size="6.2" letter-spacing="0.15" fill="#333" text-anchor="end">C11D1</text>
<rect x="504.99" y="333.82" width="4.3" height="3.78" fill="#3fa847"/>
<line x1="507.14" y1="337.6" x2="507.14" y2="341.6" stroke="#222" stroke-width="1"/>
<text transform="translate(509.84,349.10) rotate(-45)" font-size="6.2" letter-spacing="0.15" fill="#333" text-anchor="end">C11D28</text>
<text x="400.8" y="240" font-size="8.5" fill="#333" text-anchor="middle">IL-3 Nab</text>
<rect x="462.8" y="249.8" width="9.4" height="4.4" fill="#3fa847"/><text transform="translate(474.8,254.3) scale(0.9,1)" font-size="6.8" fill="#333">Positive</text>
<rect x="462.8" y="260.1" width="9.4" height="4.4" fill="#58226e"/><text transform="translate(474.8,264.5) scale(0.9,1)" font-size="6.8" fill="#333">Negative</text>
<text transform="translate(268.6,289.7) rotate(-90) scale(0.71,1)" font-size="8" fill="#333" text-anchor="middle" style="stroke-width:0.32px">Number of patients</text>
<rect x="0.5" y="0.5" width="519" height="373" fill="none" stroke="#000" stroke-width="1"/>
<line x1="0" y1="372.5" x2="520" y2="372.5" stroke="#000" stroke-opacity="0.5" stroke-width="1"/>
</svg>
</body></html>
